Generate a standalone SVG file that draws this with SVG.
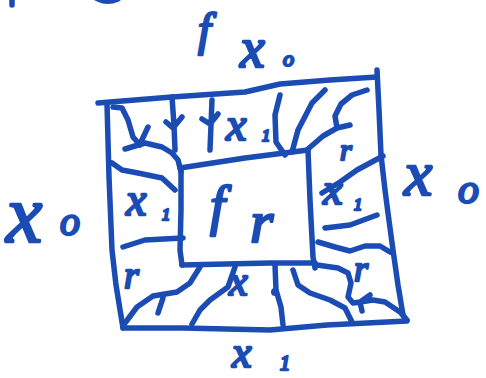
<svg xmlns="http://www.w3.org/2000/svg" width="486" height="378" viewBox="0 0 486 378">
<style>
.s{fill:none;stroke:#1b4cb4;stroke-width:5.5;stroke-linecap:round;stroke-linejoin:round}
.t{font-family:'Liberation Serif','DejaVu Serif',serif;font-style:italic;fill:#1b4cb4;stroke:#1b4cb4;stroke-width:2.4;stroke-linejoin:round}
</style>
<rect width="486" height="378" fill="#ffffff"/>
<g id="fragments">
<path class="s" d="M12,-2 L12,5 M96,-2 Q106,4 118,-1"/>
</g>
<g id="outer-box">
<path class="s" d="M98,103 L172,97 L245,92 L280,84 L330,80 L377,77"/>
<path class="s" d="M377,70 L379,110 L381,155 L385,190 L388,213 L393,250 L398,285 L403,315 L406,320"/>
<path class="s" d="M123,328 L183,328 L270,330 L327,325 L407,321"/>
<path class="s" d="M107,104 L109,177 L112,250 L116,285 L123,328"/>
</g>
<g id="inner-box">
<path class="s" d="M180,168 L245,158 L308,150"/>
<path class="s" d="M181,168 L181,210 L180,250 L182,265"/>
<path class="s" d="M308,150 L310,200 L313,257 L315,268"/>
<path class="s" d="M182,265 L270,263 L315,263"/>
</g>
<g id="connectors">
<path class="s" d="M113,107 L122,108 L128,120 L133,137 L140,145 M140,144 L148,127"/>
<path class="s" d="M125,149 L145,143 L162,147 L172,153 L178,160 L181,172"/>
<path class="s" d="M172,97 L174,125 L175,150 M166,122 L173,128 L182,117"/>
<path class="s" d="M212,100 L211,125 L210,150 M202,119 L210,124 L218,114"/>
<path class="s" d="M280,95 L275,115 L276,142 L285,155"/>
<path class="s" d="M325,90 L312,103 L298,130 L292,152"/>
<path class="s" d="M367,90 L352,95 L341,104 L335,116 L337,128 L323,136 L308,149 M337,128 L350,125"/>
<path class="s" d="M383,156 L357,170 L340,182 L322,193"/>
<path class="s" d="M325,228 L350,225 L377,215"/>
<path class="s" d="M318,242 L335,247 L350,251 L365,246 L380,246 L390,252"/>
<path class="s" d="M317,265 L338,268 L348,273 L351,283 L348,297 L353,303 L360,302 M370,295 L360,302 L362,311 M360,302 L373,300 L385,302 L400,312 L407,320"/>
<path class="s" d="M275,265 L276,290 L281,307 L283,325"/>
<circle cx="275" cy="292" r="4" fill="#1b4cb4"/>
<path class="s" d="M293,270 L298,285 L310,293 L330,300 L345,308 L352,322"/>
<path class="s" d="M125,323 L137,307 L153,296 L177,292 L190,283 L200,267 M163,298 L158,313"/>
<path class="s" d="M235,267 L228,287 L210,300 L200,310 L192,324"/>
<path class="s" d="M112,163 L122,170 L138,173 L162,178 L175,190"/>
<path class="s" d="M123,247 L145,240 L183,238"/>
</g>
<g id="label-top">
<text class="t" x="198" y="45" font-size="46">f</text>
<text class="t" x="240" y="67" font-size="56">x</text>
<text class="t" x="283" y="66" font-size="22">o</text>
</g>
<g id="label-left">
<text class="t" x="6" y="242" font-size="82">x</text>
<text class="t" x="60" y="235" font-size="40">o</text>
</g>
<g id="label-right">
<text class="t" x="404" y="195" font-size="64">x</text>
<text class="t" x="458" y="203" font-size="42">o</text>
</g>
<g id="label-bottom">
<text class="t" x="232" y="367" font-size="44">x</text>
<text class="t" x="280" y="370" font-size="20">1</text>
</g>
<g id="label-inner">
<text class="t" x="210" y="224" font-size="54">f</text>
<text class="t" x="250" y="242" font-size="60">r</text>
</g>
<g id="label-cells">
<text class="t" x="226" y="140" font-size="46">x</text>
<text class="t" x="262" y="141" font-size="16">1</text>
<text class="t" x="126" y="215" font-size="46">x</text>
<text class="t" x="162" y="220" font-size="16">1</text>
<text class="t" x="323" y="204" font-size="44">x</text>
<text class="t" x="354" y="210" font-size="16">1</text>
<text class="t" x="340" y="160" font-size="30">r</text>
<text class="t" x="124" y="288" font-size="38">r</text>
<text class="t" x="229" y="295" font-size="42">x</text>
<text class="t" x="354" y="281" font-size="36">r</text>
</g>
</svg>
